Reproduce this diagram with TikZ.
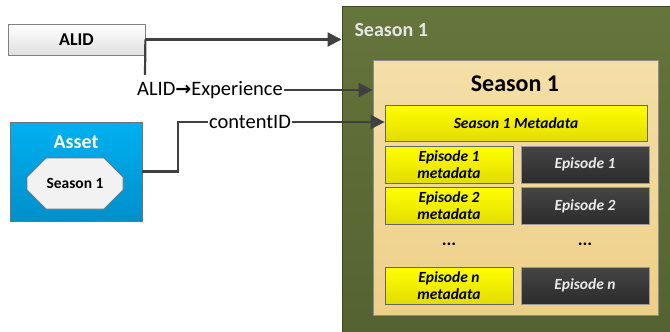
\documentclass[tikz,border=0pt]{standalone}
\usepackage{fontspec}
\setmainfont{Carlito}
\newfontfamily\arrowfont{DejaVu Sans}
\usetikzlibrary{shapes.misc,arrows.meta,positioning}
\definecolor{linegray}{HTML}{404040}
\definecolor{olivetop}{HTML}{66753C}
\definecolor{olivebot}{HTML}{536230}
\definecolor{wheattop}{HTML}{F4DFA8}
\definecolor{wheatbot}{HTML}{EECF88}
\definecolor{yeltop}{HTML}{FFFF00}
\definecolor{yelbot}{HTML}{E2DC00}
\definecolor{darktop}{HTML}{454545}
\definecolor{darkbot}{HTML}{2C2C2C}
\definecolor{cyantop}{HTML}{00B0F0}
\definecolor{cyanbot}{HTML}{008FCB}

\begin{document}
\begin{tikzpicture}[x=1pt, y=-1pt, >={Triangle[length=14pt,width=14pt]},
  conn/.style={draw=linegray, line width=2.2pt},
  metabox/.style={draw=black!60, line width=0.8pt, top color=yeltop, bottom color=yelbot,
    minimum width=128pt, minimum height=37pt, inner sep=0pt, align=center,
    font=\fontsize{15.5}{17}\selectfont\bfseries\itshape},
  epbox/.style={draw=black!40, line width=0.8pt, top color=darktop, bottom color=darkbot,
    minimum width=128pt, minimum height=37pt, inner sep=0pt, text=black!8,
    font=\fontsize{15.5}{17}\selectfont\bfseries\itshape},
  dots/.style={font=\fontsize{18}{20}\selectfont\bfseries}]
  \useasboundingbox (0,0) rectangle (670,332);

  % Season container
  \node[draw=olivebot!70!black, line width=1pt, top color=olivetop, bottom color=olivebot,
    minimum width=333pt, minimum height=330pt, inner sep=0pt] (outer) at (508.5,171) {};
  \node[anchor=west, text=black!10, font=\fontsize{20}{22}\selectfont\bfseries] (outerT) at (351,30) {Season 1};
  \node[draw=black!45, line width=0.8pt, top color=wheattop, bottom color=wheatbot,
    minimum width=285pt, minimum height=255pt, inner sep=0pt] (inner) at (515.5,187.5) {};
  \node[font=\fontsize{24}{26}\selectfont\bfseries] (innerT) at (515,84) {Season 1};
  \node[metabox, minimum width=262pt, minimum height=36pt] (meta) at (516,123) {Season 1 Metadata};

  % Episodes
  \foreach \n/\y in {1/164.5, 2/206, n/285.5} {
    \node[metabox] (m\n) at (449,\y) {Episode \n\\metadata};
    \node[epbox] (e\n) at (585,\y) {Episode \n};
  }
  \node[dots] (d1) at (449,244) {...};
  \node[dots] (d2) at (585,244) {...};

  % Sources
  \node[draw=black!50, line width=0.8pt, top color=white, bottom color=black!12,
    minimum width=137pt, minimum height=31pt, inner sep=0pt,
    font=\fontsize{18}{20}\selectfont\bfseries] (alid) at (76.5,39.5) {ALID};
  \node[draw=black!55, line width=0.8pt, top color=cyantop, bottom color=cyanbot,
    minimum width=132pt, minimum height=99pt, inner sep=0pt] (asset) at (76,171.5) {};
  \node[text=white, font=\fontsize{20}{22}\selectfont\bfseries] (assetT) at (76,142) {Asset};
  \node[chamfered rectangle, chamfered rectangle xsep=16pt, chamfered rectangle ysep=14pt,
    draw=black!55, line width=0.8pt, fill=black!5, minimum width=96pt, minimum height=51pt,
    inner sep=0pt, font=\fontsize{15.5}{17}\selectfont\bfseries] (oct) at (75,183.5) {Season 1};

  % Labels
  \node[inner sep=1pt, font=\fontsize{20.5}{22}\selectfont] (exp) at (210,90)
    {ALID{\arrowfont\bfseries\fontsize{19}{20}\selectfont →}Experience};
  \node[inner sep=1pt, font=\fontsize{20.5}{22}\selectfont] (cid) at (250,122) {contentID};
  \coordinate (alidstub) at (145,75);
  \coordinate (bend) at (178,171.5);

  % Connectors
  \draw[conn, ->] (alid.east) -- (alid.east -| outer.west);
  \draw[conn] (alid.east) -- (alidstub);
  \draw[conn, ->] (exp.east) -- (exp.east -| inner.west);
  \draw[conn] (asset.east) -- (bend) |- (cid.west);
  \draw[conn, ->] (cid.east) -- (cid.east -| meta.west);
\end{tikzpicture}
\end{document}
